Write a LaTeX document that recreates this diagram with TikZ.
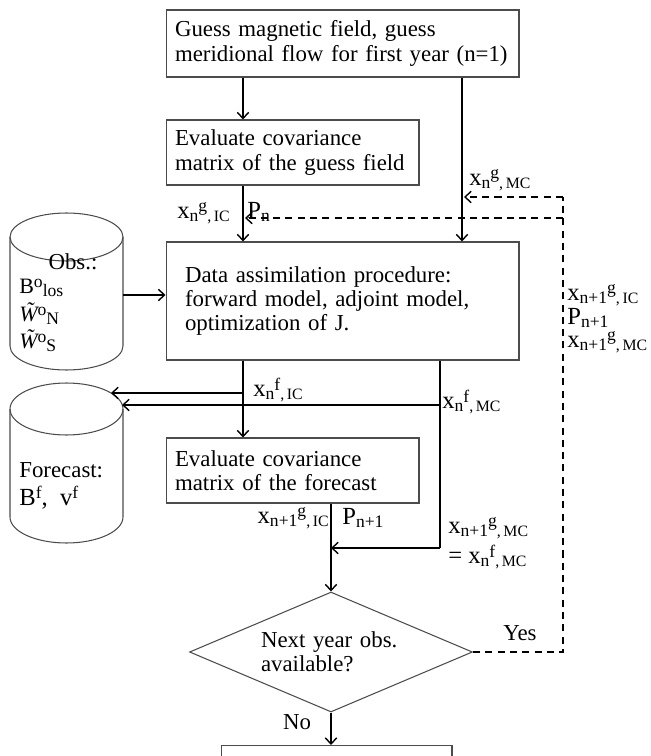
\documentclass[tikz,border=0pt]{standalone}
\usepackage{fontspec}
\setmainfont{Liberation Serif}
\usetikzlibrary{arrows.meta,shapes.geometric}
\newcommand{\sbs}[1]{\raisebox{-0.25ex}{\fontsize{10}{10}\selectfont #1}}
\newcommand{\sbss}[1]{\raisebox{-0.25ex}{\fontsize{9}{9}\selectfont #1}}
\newcommand{\sps}[1]{\raisebox{0.6ex}{\fontsize{10}{10}\selectfont #1}}
\newcommand{\xv}[3]{x\sbs{#1}\sps{#2}\sbss{,\,#3}}
\newcommand{\Wt}{\textit{\smash{\accent"02DC W}\vphantom{W}}}
\begin{document}
\begin{tikzpicture}[x=0.02cm,y=-0.02cm,
  box/.style={draw=black!70, line width=0.6pt, rectangle, inner sep=0pt, align=left, font=\fontsize{13}{13.8}\selectfont},
  arr/.style={-{Straight Barb[length=3.5pt,width=6.5pt]}, line width=0.8pt},
  dsh/.style={dash pattern=on 4pt off 3pt, line width=0.8pt},
  lab/.style={font=\fontsize{14}{15}\selectfont, inner sep=0pt},
  olab/.style={font=\fontsize{12.5}{13}\selectfont, inner sep=0pt},
  slab/.style={font=\fontsize{13}{14}\selectfont, inner sep=0pt},
  cyl/.style={draw=black!70, line width=0.6pt}]
\useasboundingbox (0,0) rectangle (650,756);
\clip (0,0) rectangle (650,756);

% boxes
\node[box, minimum width=7.06cm, minimum height=1.34cm, text width=6.7cm] (top) at (342.5,43.5)
  {Guess magnetic field, guess\\meridional flow for first year (n=1)};
\node[box, minimum width=5.06cm, minimum height=1.3cm, text width=4.7cm] (box2) at (292.5,152.5)
  {Evaluate covariance\\matrix of the guess field};
\node[box, minimum width=7.06cm, minimum height=2.36cm, text width=6.3cm] (main) at (342.5,301)
  {Data assimilation procedure:\\forward model, adjoint model,\\optimization of J.};
\node[box, minimum width=5.06cm, minimum height=1.3cm, text width=4.7cm] (box3) at (292.5,470.5)
  {Evaluate covariance\\matrix of the forecast};
\node[box, diamond, aspect=2.36, minimum width=5.66cm, minimum height=2.4cm, text width=2.8cm] (dia) at (331,652)
  {Next year obs.\\available?};
\node[box, anchor=north, minimum width=4.62cm, minimum height=1cm] (bot) at (336.5,745) {};

% cylinders
\draw[cyl] (66.5,237) ellipse [x radius=1.13cm, y radius=0.48cm];
\draw[cyl] (10,237) -- (10,346) arc[start angle=180, end angle=360, x radius=1.13cm, y radius=0.48cm] -- (123,237);
\draw[cyl] (66.5,409) ellipse [x radius=1.13cm, y radius=0.52cm];
\draw[cyl] (10,409) -- (10,517) arc[start angle=180, end angle=360, x radius=1.13cm, y radius=0.52cm] -- (123,409);

\node[slab] (obst) at (73,262) {Obs.:};
\node[olab, anchor=west] (bo) at (19,288) {B\sps{o}\sbs{los}};
\node[olab, anchor=west] (wn) at (19,316) {\Wt\sps{o}\sbs{N}};
\node[olab, anchor=west] (ws) at (19,343) {\Wt\sps{o}\sbs{S}};
\node[slab, anchor=west] (fct) at (19,470) {Forecast:};
\node[lab, anchor=west] (bf) at (19,498) {B\sps{f}, \ v\sps{f}};

% coordinates
\coordinate (cL) at (243,0);
\coordinate (cR) at (462,0);
\coordinate (cR2) at (440,0);
\coordinate (obsE) at (123,295);
\coordinate (f1) at (243,393);
\coordinate (fcA) at (111,393);
\coordinate (f2) at (440,405);
\coordinate (fcB) at (122,405);
\coordinate (mc) at (440,548);
\coordinate (dR) at (563,197);
\coordinate (d2) at (563,218);
\coordinate (d2e) at (245,218);
\coordinate (d1e) at (464,197);

% solid connectors
\draw[arr] (top.south -| cL) -- (box2.north -| cL);
\draw[arr] (top.south -| cR) -- (main.north -| cR);
\draw[arr] (box2.south -| cL) -- (main.north -| cL);
\draw[arr] (obsE) -- (main.west |- obsE);
\draw[arr] (main.south -| cL) -- (box3.north -| cL);
\draw[arr] (f1) -- (fcA);
\draw[line width=0.8pt] (main.south -| cR2) -- (mc);
\draw[arr] (f2) -- (fcB);
\draw[arr] (mc) -- (mc -| dia.north);
\draw[arr] (box3.south -| dia.north) -- (dia.north);
\draw[arr] (dia.south) -- (bot.north -| dia.south);

% dashed feedback
\draw[dsh] (dia.east) -- (dia.east -| dR) -- (dR);
\draw[dsh, arr] (dR) -- (d1e);
\draw[dsh, arr] (d2) -- (d2e);

% labels
\node[lab, anchor=west] (l1) at (469,180) {\xv{n}{g}{MC}};
\node[lab, anchor=east] (l2) at (230,213) {\xv{n}{g}{IC}};
\node[lab, anchor=west] (l3) at (247,212) {P\sbs{n}};
\node[lab, anchor=west] (l4) at (567,295) {\xv{n+1}{g}{IC}};
\node[lab, anchor=west] (l5) at (567,318) {P\sbs{n+1}};
\node[lab, anchor=west] (l6) at (567,342) {\xv{n+1}{g}{MC}};
\node[lab, anchor=west] (l7) at (253,390) {\xv{n}{f}{IC}};
\node[lab, anchor=west] (l8) at (442,402) {\xv{n}{f}{MC}};
\node[lab, anchor=east] (l9) at (329,518) {\xv{n+1}{g}{IC}};
\node[lab, anchor=west] (l10) at (342,518) {P\sbs{n+1}};
\node[lab, anchor=west] (l11) at (448,528) {\xv{n+1}{g}{MC}};
\node[lab, anchor=west] (l12) at (448,557) {= \xv{n}{f}{MC}};
\node[slab] (yes) at (520,633) {Yes};
\node[slab] (no) at (297,722) {No};
\end{tikzpicture}
\end{document}
